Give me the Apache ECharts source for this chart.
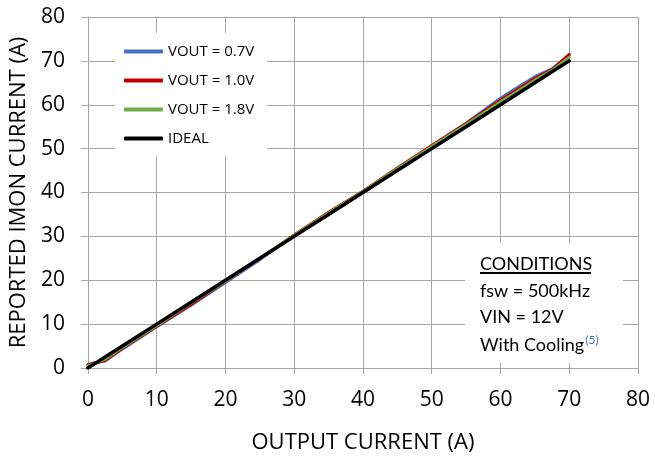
<!DOCTYPE html>
<html>
<head>
<meta charset="utf-8">
<script src="https://cdn.jsdelivr.net/npm/echarts@6/dist/echarts.min.js"></script>
<style>
html,body{margin:0;padding:0;background:#fff;}
#main{width:655px;height:459px;}
</style>
</head>
<body>
<div id="main"></div>
<script>
const xValues = [0, 1, 2.5, 5, 10, 15, 20, 25, 30, 35, 40, 45, 50, 55, 60, 62.5, 65, 67.5, 70];
const vout07 = [0.8, 1.2, 1.6, 4.3, 9.4, 14.3, 19.5, 24.7, 30.2, 35.3, 40.2, 45.5, 50.6, 55.8, 61.5, 64.0, 66.4, 68.2, 71.2];
const vout10 = [0.7, 1.1, 1.7, 4.5, 9.5, 14.5, 19.7, 24.9, 30.3, 35.5, 40.3, 45.6, 50.7, 55.7, 61.0, 63.5, 66.0, 68.0, 71.5];
const vout18 = [0.5, 1.0, 2.0, 4.7, 9.7, 14.8, 19.8, 25.0, 30.2, 35.3, 40.2, 45.4, 50.5, 55.5, 60.6, 63.1, 65.6, 67.8, 70.8];
const ideal  = [0, 1, 2.5, 5, 10, 15, 20, 25, 30, 35, 40, 45, 50, 55, 60, 62.5, 65, 67.5, 70];
const seriesNames = ['VOUT = 0.7V', 'VOUT = 1.0V', 'VOUT = 1.8V', 'IDEAL'];
const seriesColors = ['#4472c4', '#c00000', '#70ad47', '#000000'];
const conditionLines = ['fsw = 500kHz', 'VIN = 12V'];

const allData = [vout07, vout10, vout18, ideal];
const chart = echarts.init(document.getElementById('main'));
const font = '"Open Sans", sans-serif';
const gridColor = '#a6a6a6';

const series = allData.map((vals, i) => ({
  name: seriesNames[i],
  type: 'line',
  data: xValues.map((x, j) => [x, vals[j]]),
  showSymbol: false,
  symbol: 'none',
  smooth: false,
  lineStyle: { color: seriesColors[i], width: i === 3 ? 3.5 : 3, cap: 'round', join: 'round' },
  itemStyle: { color: seriesColors[i] },
  z: 2 + i
}));

chart.setOption({
  animation: false,
  backgroundColor: '#fff',
  grid: { left: 87, right: 17, top: 17, bottom: 86, containLabel: false },
  xAxis: {
    type: 'value', min: 0, max: 80, interval: 10,
    name: 'OUTPUT CURRENT (A)', nameLocation: 'middle', nameGap: 64,
    nameTextStyle: { fontFamily: font, fontSize: 22, color: '#000' },
    axisLine: { show: true, lineStyle: { color: gridColor, width: 1 } },
    axisTick: { show: true, length: 6, lineStyle: { color: gridColor, width: 1 } },
    axisLabel: { margin: 22, fontFamily: font, fontSize: 21, color: '#000' },
    splitLine: { show: true, lineStyle: { color: gridColor, width: 1 } }
  },
  yAxis: {
    type: 'value', min: 0, max: 80, interval: 10,
    name: 'REPORTED IMON CURRENT (A)', nameLocation: 'middle', nameGap: 57,
    nameTextStyle: { fontFamily: font, fontSize: 22, color: '#000' },
    axisLine: { show: true, lineStyle: { color: gridColor, width: 1 } },
    axisTick: { show: true, length: 7, lineStyle: { color: gridColor, width: 1 } },
    axisLabel: { margin: 23, fontFamily: font, fontSize: 21, color: '#000', padding: [3, 0, 0, 0] },
    splitLine: { show: true, lineStyle: { color: gridColor, width: 1 } }
  },
  legend: {
    orient: 'vertical', left: 119, top: 39,
    data: seriesNames,
    icon: 'roundRect',
    itemWidth: 39, itemHeight: 4, itemGap: 14,
    textStyle: { fontFamily: font, fontSize: 15, color: '#000', lineHeight: 14 },
    z: 10
  },
  graphic: [
    { type: 'rect', z: 1, shape: { x: 115, y: 33, width: 152, height: 123 }, style: { fill: '#fff' } },
    { type: 'rect', z: 1, shape: { x: 465, y: 243, width: 158, height: 120 }, style: { fill: '#fff' } },
    { type: 'text', z: 5, left: 480, top: 255, style: { text: 'CONDITIONS', font: '18px Lato, sans-serif', fill: '#000' } },
    { type: 'line', z: 5, shape: { x1: 480, y1: 273, x2: 591, y2: 273 }, style: { stroke: '#000', lineWidth: 2 } },
    { type: 'text', z: 5, left: 480, top: 282, style: { text: conditionLines[0], font: '18px Lato, sans-serif', fill: '#000' } },
    { type: 'text', z: 5, left: 480, top: 308, style: { text: conditionLines[1], font: '18px Lato, sans-serif', fill: '#000' } },
    { type: 'text', z: 5, left: 480, top: 334, style: {
      text: 'With Cooling{s|(5)}',
      font: '18px Lato, sans-serif', fill: '#000',
      rich: { s: { fontFamily: 'Lato, sans-serif', fontSize: 12, fill: '#4472c4', verticalAlign: 'top', padding: [0, 0, 10, 1] } }
    } }
  ],
  series: series
});
</script>
</body>
</html>
